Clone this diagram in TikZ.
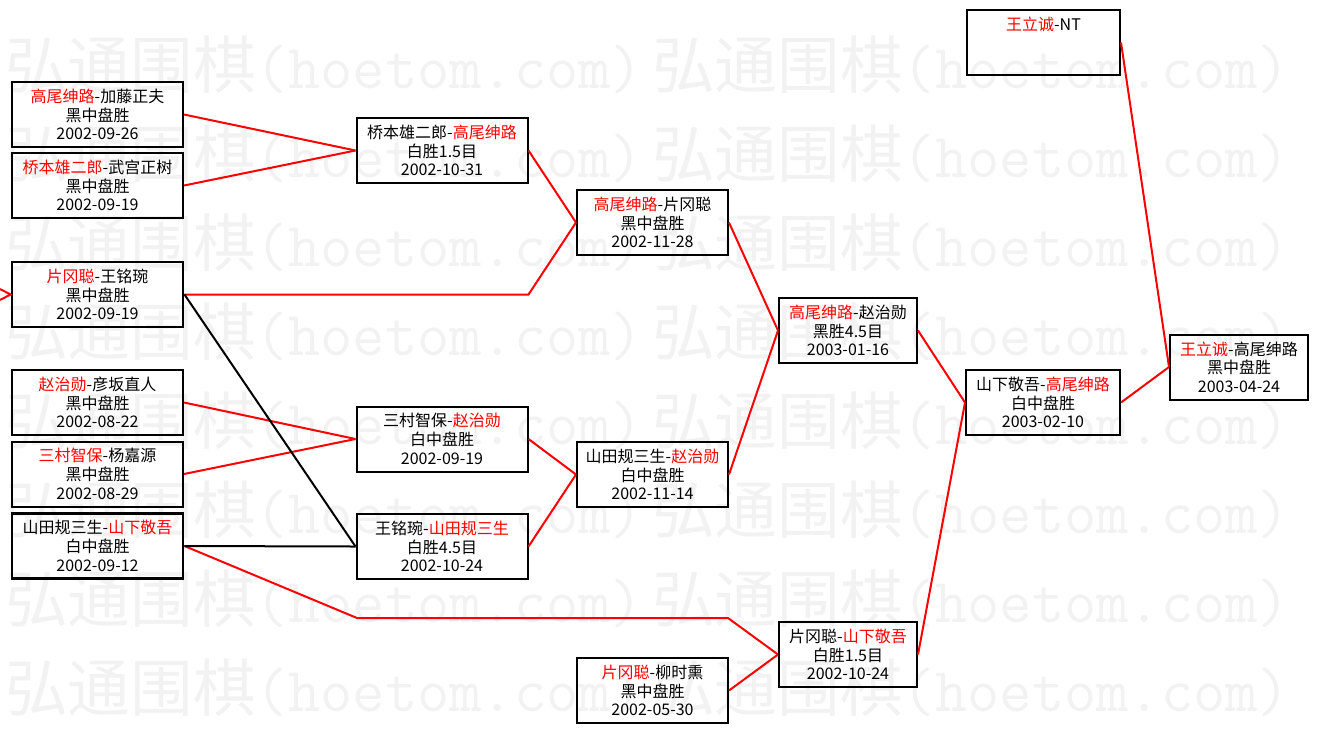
\documentclass[tikz,border=0pt]{standalone}
\usepackage{fontspec}
\setmainfont{Noto Sans CJK SC}
\begin{document}
\begin{tikzpicture}[x=0.75pt, y=-0.75pt,
  font=\fontsize{12pt}{14pt}\selectfont,
  game/.style={draw, line width=1.5pt, align=center, inner sep=0pt, minimum height=48.75pt},
  seed/.style={game, line width=2.2pt},
  win/.style={red, line width=1.5pt},
  lose/.style={black, line width=1.5pt},
  wm/.style={black!5, anchor=west, inner sep=0pt, font=\fontsize{47pt}{47pt}\selectfont}]
  \useasboundingbox (0,0) rectangle (1319,733);
  % watermark
  \foreach \r in {0,...,7}
    \foreach \c in {5,652}
      \node[wm] (wm-\r-\c) at (\c, 65+89*\r) {弘通围棋{\ttfamily(hoetom.com)}};
  % first round
  \node[game, minimum width=128.25pt] (r1a) at (97.5,114.5) {\textcolor{red}{高尾绅路}-加藤正夫\\黑中盘胜\\2002-09-26};
  \node[game, minimum width=128.25pt] (r1b) at (97.5,185.5) {\textcolor{red}{桥本雄二郎}-武宫正树\\黑中盘胜\\2002-09-19};
  \node[seed, minimum width=128.25pt] (r1c) at (97.5,294.5) {\textcolor{red}{片冈聪}-王铭琬\\黑中盘胜\\2002-09-19};
  \node[game, minimum width=128.25pt] (r1d) at (97.5,402.5) {\textcolor{red}{赵治勋}-彦坂直人\\黑中盘胜\\2002-08-22};
  \node[game, minimum width=128.25pt] (r1e) at (97.5,474) {\textcolor{red}{三村智保}-杨嘉源\\黑中盘胜\\2002-08-29};
  \node[seed, minimum width=128.25pt] (r1f) at (97.5,546) {山田规三生-\textcolor{red}{山下敬吾}\\白中盘胜\\2002-09-12};
  % second round
  \node[game, minimum width=128.25pt] (r2a) at (442,150.5) {桥本雄二郎-\textcolor{red}{高尾绅路}\\白胜1.5目\\2002-10-31};
  \node[game, minimum width=128.25pt] (r2b) at (442,439) {三村智保-\textcolor{red}{赵治勋}\\白中盘胜\\2002-09-19};
  \node[game, minimum width=128.25pt] (r2c) at (442,546.5) {王铭琬-\textcolor{red}{山田规三生}\\白胜4.5目\\2002-10-24};
  % third round
  \node[game, minimum width=113.25pt] (r3a) at (652.5,222.5) {\textcolor{red}{高尾绅路}-片冈聪\\黑中盘胜\\2002-11-28};
  \node[game, minimum width=113.25pt] (r3b) at (652.5,474.5) {山田规三生-\textcolor{red}{赵治勋}\\白中盘胜\\2002-11-14};
  \node[game, minimum width=113.25pt] (r3c) at (652.5,690.5) {\textcolor{red}{片冈聪}-柳时熏\\黑中盘胜\\2002-05-30};
  % semi-finals and final
  \node[game, minimum width=103.5pt] (r4a) at (848,330.5) {\textcolor{red}{高尾绅路}-赵治勋\\黑胜4.5目\\2003-01-16};
  \node[game, minimum width=103.5pt] (r4b) at (848,654.5) {片冈聪-\textcolor{red}{山下敬吾}\\白胜1.5目\\2002-10-24};
  \node[game, minimum width=115.5pt] (r5) at (1043,402.5) {山下敬吾-\textcolor{red}{高尾绅路}\\白中盘胜\\2003-02-10};
  \node[game, minimum width=114.75pt] (hold) at (1043.5,42.5) {\textcolor{red}{王立诚}-NT\\~\\~};
  \node[game, minimum width=103.5pt] (title) at (1239,367) {\textcolor{red}{王立诚}-高尾绅路\\黑中盘胜\\2003-04-24};
  % connectors
  \coordinate (in1) at (0,289);
  \coordinate (in2) at (0,300);
  \coordinate (bend1) at (357,618);
  \coordinate (bend2) at (728,618);
  \draw[win] (in1) -- (r1c.west) -- (in2);
  \draw[win] (r1a.east) -- (r2a.west);
  \draw[win] (r1b.east) -- (r2a.west);
  \draw[win] (r1c.east) -- (r1c.east -| r2a.east) -- (r3a.west);
  \draw[win] (r2a.east) -- (r3a.west);
  \draw[win] (r1d.east) -- (r2b.west);
  \draw[win] (r1e.east) -- (r2b.west);
  \draw[win] (r2b.east) -- (r3b.west);
  \draw[win] (r2c.east) -- (r3b.west);
  \draw[win] (r1f.east) -- (bend1) -- (bend2) -- (r4b.west);
  \draw[win] (r3c.east) -- (r4b.west);
  \draw[win] (r3a.east) -- (r4a.west);
  \draw[win] (r3b.east) -- (r4a.west);
  \draw[win] (r4a.east) -- (r5.west);
  \draw[win] (r4b.east) -- (r5.west);
  \draw[win] (r5.east) -- (title.west);
  \draw[win] (hold.east) -- (title.west);
  \draw[lose] (r1c.east) -- (r2c.west);
  \draw[lose] (r1f.east) -- (r2c.west);
\end{tikzpicture}
\end{document}
